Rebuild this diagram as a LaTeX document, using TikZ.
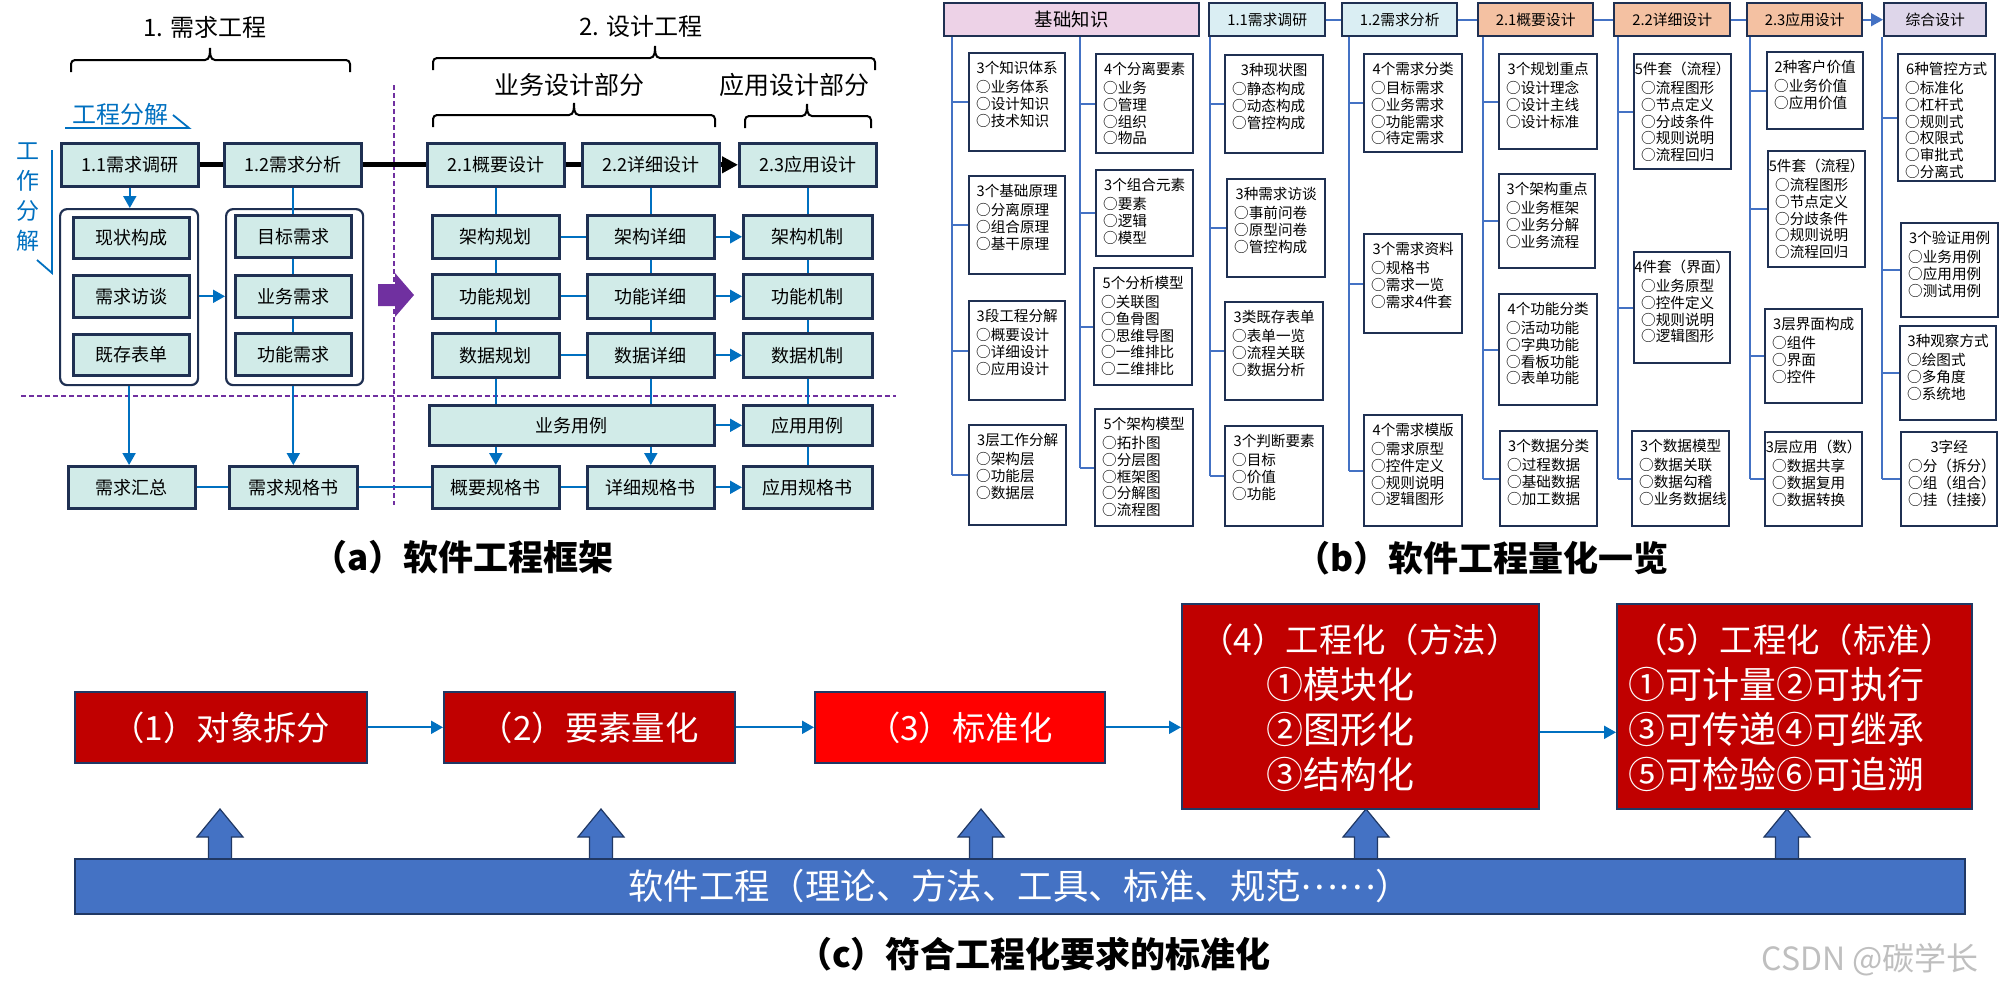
\documentclass[tikz,border=0pt]{standalone}
\usepackage{fontspec}
\setmainfont{Noto Sans CJK SC}
\usetikzlibrary{arrows.meta}

\definecolor{navy}{HTML}{1F3052}
\definecolor{tealbox}{HTML}{D1EBE8}
\definecolor{lineblue}{HTML}{0070C0}
\definecolor{linkblue}{HTML}{4472C4}
\definecolor{purp}{HTML}{7030A0}
\definecolor{hpink}{HTML}{EDD2E7}
\definecolor{hblue}{HTML}{DAEEF3}
\definecolor{hsalmon}{HTML}{F4C1A2}
\definecolor{hlav}{HTML}{DED6EA}
\definecolor{darkred}{HTML}{C00000}
\definecolor{brightred}{HTML}{FF0000}
\definecolor{barblue}{HTML}{4472C4}
\definecolor{barline}{HTML}{203864}

% rectangle node given by its corners (in px units)
\newcommand\rbox[7][]{\node[#1, anchor=north west, inner sep=0pt,
  minimum width={(#5-#3)/2}, minimum height={(#6-#4)/2}] (#2) at (#3,#4) {#7};}
% white list box with a centred title and left-aligned entries
\newcommand\itembox[6]{\node[ibx, anchor=north west] (#1) at (#2,#3)
  {\begin{minipage}[t][\dimexpr\numexpr#5-#3\relax pt/2-4pt\relax][t]{\dimexpr\numexpr#4-#2\relax pt/2-7pt\relax}#6\end{minipage}};}
\newcommand\ititle[1]{\makebox[\linewidth][c]{\rule{0pt}{8pt}#1}\\[1.2pt]}
% curly bracket: left x, right x, bar y, tip x
\newcommand\topbrace[4]{\draw[bracket] (#1,#3+12) -- (#1,#3+4) to[out=90,in=180] (#1+4,#3)
  -- (#4-5,#3) to[out=0,in=-90] (#4,#3-12) to[out=-90,in=180] (#4+5,#3)
  -- (#2-4,#3) to[out=0,in=90] (#2,#3+4) -- (#2,#3+12);}

\begin{document}
\begin{tikzpicture}[x=0.5pt,y=-0.5pt,
  abx/.style={draw=navy, line width=1.3pt, fill=tealbox, font=\fontsize{9}{10}\selectfont},
  grpbx/.style={draw=navy, line width=1.1pt, rounded corners=3.5pt},
  wire/.style={draw=lineblue, line width=1pt},
  wireto/.style={wire, -{Triangle[length=6pt,width=6.5pt]}},
  spine/.style={draw=black, line width=2.6pt},
  bracket/.style={draw=black, line width=1pt},
  pdash/.style={draw=purp, line width=0.6pt, dash pattern=on 2.5pt off 1.5pt},
  hdr/.style={draw=navy, line width=1.2pt, font=\fontsize{7.4}{8}\selectfont},
  ibx/.style={draw=navy, line width=1.2pt, fill=white, inner xsep=3.5pt, inner ysep=2pt,
    font=\fontsize{7.3}{8.4}\selectfont},
  treeline/.style={draw=linkblue, line width=1pt},
  hlink/.style={draw=linkblue, line width=0.8pt},
  cbx/.style={draw=barline, line width=0.8pt, text=white, font=\fontsize{16.7}{20}\selectfont},
  ctitle/.style={text=white, inner sep=0pt, font=\fontsize{16.7}{20}\selectfont},
  citem/.style={text=white, inner sep=0pt, font=\fontsize{18.5}{22}\selectfont},
  uparr/.style={fill=barblue, draw=barline, line width=0.6pt},
  captxt/.style={font=\fontsize{17.5}{20}\selectfont\bfseries},
  heading/.style={font=\fontsize{12}{14}\selectfont},
]
\useasboundingbox[fill=white] (0,0) rectangle (2006,1002);

%% ---------------- (a) framework ----------------
\node[heading] (t1) at (205,27) {1. 需求工程};
\node[heading] (t2) at (641,26) {2. 设计工程};
\node[heading, font=\fontsize{12.5}{14}\selectfont] (t3) at (569,85) {业务设计部分};
\node[heading, font=\fontsize{12.5}{14}\selectfont] (t4) at (794,85) {应用设计部分};
\topbrace{71}{350}{60}{210}
\topbrace{433}{875}{58}{655}
\topbrace{433}{715}{115}{574}
\topbrace{745}{871}{116}{807}

\node[heading, text=lineblue] (lab1) at (120,114) {工程分解};
\draw[lineblue, line width=0.9pt] (65,128) -- (189,128) -- (173,115);
\node[text=lineblue, align=center, font=\fontsize{11.5}{15}\selectfont] (lab2) at (28,197) {工\\作\\分\\解};
\draw[lineblue, line width=0.9pt] (52,150) -- (52,273) -- (37,260);

% stage separators
\coordinate (pv1) at (394,85);  \coordinate (pv2) at (394,505);
\coordinate (ph1) at (21,396);  \coordinate (ph2) at (896,396);
\draw[pdash] (pv1) -- (pv2);
\draw[pdash] (ph1) -- (ph2);
\fill[purp] (378,284) -- (395,284) -- (395,273) -- (414,295) -- (395,317) -- (395,306) -- (378,306) -- cycle;

\rbox[grpbx]{grpA}{59}{208}{197}{384}{}
\rbox[grpbx]{grpB}{225}{208}{362}{384}{}

\rbox[abx]{r11}{60}{142}{197}{185}{1.1需求调研}
\rbox[abx]{r12}{223}{142}{360}{185}{1.2需求分析}
\rbox[abx]{r21}{426}{142}{563}{185}{2.1概要设计}
\rbox[abx]{r22}{581}{142}{718}{185}{2.2详细设计}
\rbox[abx]{r23}{738}{142}{875}{185}{2.3应用设计}

\rbox[abx]{x1}{72}{216}{188}{257}{现状构成}
\rbox[abx]{x2}{72}{274}{188}{316}{需求访谈}
\rbox[abx]{x3}{72}{333}{188}{374}{既存表单}
\rbox[abx]{y1}{234}{214}{350}{256}{目标需求}
\rbox[abx]{y2}{234}{274}{350}{316}{业务需求}
\rbox[abx]{y3}{234}{332}{350}{374}{功能需求}
\rbox[abx]{hz}{67}{465}{194}{507}{需求汇总}
\rbox[abx]{hs}{228}{465}{356}{507}{需求规格书}

\rbox[abx]{jg1}{431}{214}{558}{257}{架构规划}
\rbox[abx]{jg2}{586}{214}{713}{257}{架构详细}
\rbox[abx]{jg3}{742}{214}{871}{257}{架构机制}
\rbox[abx]{gn1}{431}{273}{558}{317}{功能规划}
\rbox[abx]{gn2}{586}{273}{713}{317}{功能详细}
\rbox[abx]{gn3}{742}{273}{871}{317}{功能机制}
\rbox[abx]{sj1}{431}{332}{558}{376}{数据规划}
\rbox[abx]{sj2}{586}{332}{713}{376}{数据详细}
\rbox[abx]{sj3}{742}{332}{871}{376}{数据机制}
\rbox[abx]{yl1}{428}{404}{713}{444}{业务用例}
\rbox[abx]{yl2}{742}{404}{871}{444}{应用用例}
\rbox[abx]{gg1}{431}{465}{558}{507}{概要规格书}
\rbox[abx]{gg2}{586}{465}{713}{507}{详细规格书}
\rbox[abx]{gg3}{742}{465}{871}{507}{应用规格书}

% main stage line
\draw[spine] (r11.east) -- (r12.west);
\draw[spine] (r12.east) -- (r21.west);
\draw[spine] (r21.east) -- (r22.west);
\draw[spine, -{Triangle[length=8pt,width=8pt]}] (r22.east) -- (r23.west);

% requirement links
\draw[wireto] (r11.south) -- (r11.south |- grpA.north);
\draw[wire] (r12.south) -- (r12.south |- y1.north);
\draw[wire] (y1) -- (y2);
\draw[wire] (y2) -- (y3);
\draw[wireto] (grpA.east |- x2) -- (grpB.west |- x2);
\draw[wireto] (grpA.south) -- (grpA.south |- hz.north);
\draw[wireto] (hs.north |- grpB.south) -- (hs.north);
\draw[wire] (hz) -- (hs);
\draw[wire] (hs) -- (gg1);

% design links
\draw[wire] (r21) -- (jg1);  \draw[wire] (jg1) -- (gn1);  \draw[wire] (gn1) -- (sj1);
\draw[wire] (sj1.south) -- (sj1.south |- yl1.north);
\draw[wire] (r22) -- (jg2);  \draw[wire] (jg2) -- (gn2);  \draw[wire] (gn2) -- (sj2);
\draw[wire] (sj2.south) -- (sj2.south |- yl1.north);
\draw[wire] (r23) -- (jg3);  \draw[wire] (jg3) -- (gn3);  \draw[wire] (gn3) -- (sj3);
\draw[wire] (sj3) -- (yl2);  \draw[wire] (yl2) -- (gg3);
\draw[wire] (jg1) -- (jg2);  \draw[wireto] (jg2) -- (jg3);
\draw[wire] (gn1) -- (gn2);  \draw[wireto] (gn2) -- (gn3);
\draw[wire] (sj1) -- (sj2);  \draw[wireto] (sj2) -- (sj3);
\draw[wireto] (yl1) -- (yl2);
\draw[wireto] (yl1.south -| gg1.north) -- (gg1.north);
\draw[wireto] (yl1.south -| gg2.north) -- (gg2.north);
\draw[wire] (gg1) -- (gg2);  \draw[wireto] (gg2) -- (gg3);

\node[captxt] (capa) at (463,557) {（a）软件工程框架};

%% ---------------- (b) quantified overview ----------------
\rbox[hdr, fill=hpink, font=\fontsize{9.2}{10}\selectfont]{h0}{943}{2}{1198}{35}{基础知识}
\rbox[hdr, fill=hblue]{h1}{1208}{2}{1324}{35}{1.1需求调研}
\rbox[hdr, fill=hblue]{h2}{1341}{2}{1456}{35}{1.2需求分析}
\rbox[hdr, fill=hsalmon]{h3}{1477}{2}{1592}{35}{2.1概要设计}
\rbox[hdr, fill=hsalmon]{h4}{1613}{2}{1729}{35}{2.2详细设计}
\rbox[hdr, fill=hsalmon]{h5}{1746}{2}{1861}{35}{2.3应用设计}
\rbox[hdr, fill=hlav]{h6}{1883}{2}{1985}{35}{综合设计}
\draw[hlink] (h1) -- (h2);
\draw[hlink] (h2) -- (h3);
\draw[hlink] (h3) -- (h4);
\draw[hlink] (h4) -- (h5);
\draw[hlink, -{Triangle[length=6pt,width=6.5pt]}] (h5) -- (h6);

\itembox{bk1}{968}{52}{1064}{150}{\ititle{3个知识体系}○业务体系\\○设计知识\\○技术知识}
\itembox{bk2}{968}{175}{1064}{273}{\ititle{3个基础原理}○分离原理\\○组合原理\\○基干原理}
\itembox{bk3}{968}{300}{1064}{399}{\ititle{3段工程分解}○概要设计\\○详细设计\\○应用设计}
\itembox{bk4}{968}{424}{1065}{524}{\ititle{3层工作分解}○架构层\\○功能层\\○数据层}
\itembox{bk5}{1095}{53}{1192}{152}{\ititle{4个分离要素}○业务\\○管理\\○组织\\○物品}
\itembox{bk6}{1095}{169}{1192}{255}{\ititle{3个组合元素}○要素\\○逻辑\\○模型}
\itembox{bk7}{1093}{267}{1191}{384}{\ititle{5个分析模型}○关联图\\○鱼骨图\\○思维导图\\○一维排比\\○二维排比}
\itembox{bk8}{1094}{408}{1192}{525}{\ititle{5个架构模型}○拓扑图\\○分层图\\○框架图\\○分解图\\○流程图}

\itembox{bq1}{1224}{54}{1322}{152}{\ititle{3种现状图}○静态构成\\○动态构成\\○管控构成}
\itembox{bq2}{1226}{178}{1324}{276}{\ititle{3种需求访谈}○事前问卷\\○原型问卷\\○管控构成}
\itembox{bq3}{1224}{301}{1322}{399}{\ititle{3类既存表单}○表单一览\\○流程关联\\○数据分析}
\itembox{bq4}{1224}{425}{1322}{525}{\ititle{3个判断要素}○目标\\○价值\\○功能}

\itembox{ba1}{1363}{53}{1461}{151}{\ititle{4个需求分类}○目标需求\\○业务需求\\○功能需求\\○待定需求}
\itembox{ba2}{1363}{233}{1461}{332}{\ititle{3个需求资料}○规格书\\○需求一览\\○需求4件套}
\itembox{ba3}{1363}{414}{1461}{525}{\ititle{4个需求模版}○需求原型\\○控件定义\\○规则说明\\○逻辑图形}

\itembox{bg1}{1498}{53}{1596}{148}{\ititle{3个规划重点}○设计理念\\○设计主线\\○设计标准}
\itembox{bg2}{1498}{173}{1594}{267}{\ititle{3个架构重点}○业务框架\\○业务分解\\○业务流程}
\itembox{bg3}{1498}{293}{1596}{404}{\ititle{4个功能分类}○活动功能\\○字典功能\\○看板功能\\○表单功能}
\itembox{bg4}{1499}{430}{1596}{525}{\ititle{3个数据分类}○过程数据\\○基础数据\\○加工数据}

\itembox{bd1}{1633}{53}{1730}{168}{\ititle{5件套（流程）}○流程图形\\○节点定义\\○分歧条件\\○规则说明\\○流程回归}
\itembox{bd2}{1633}{251}{1729}{362}{\ititle{4件套（界面）}○业务原型\\○控件定义\\○规则说明\\○逻辑图形}
\itembox{bd3}{1631}{430}{1728}{525}{\ititle{3个数据模型}○数据关联\\○数据勾稽\\○业务数据线}

\itembox{bp1}{1766}{51}{1862}{128}{\ititle{2种客户价值}○业务价值\\○应用价值}
\itembox{bp2}{1767}{150}{1864}{266}{\ititle{5件套（流程）}○流程图形\\○节点定义\\○分歧条件\\○规则说明\\○流程回归}
\itembox{bp3}{1764}{308}{1861}{402}{\ititle{3层界面构成}○组件\\○界面\\○控件}
\itembox{bp4}{1764}{431}{1861}{525}{\ititle{3层应用（数）}○数据共享\\○数据复用\\○数据转换}

\itembox{bs1}{1897}{53}{1994}{180}{\ititle{6种管控方式}○标准化\\○杠杆式\\○规则式\\○权限式\\○审批式\\○分离式}
\itembox{bs2}{1900}{222}{1997}{316}{\ititle{3个验证用例}○业务用例\\○应用用例\\○测试用例}
\itembox{bs3}{1899}{325}{1995}{419}{\ititle{3种观察方式}○绘图式\\○多角度\\○系统地}
\itembox{bs4}{1900}{431}{1996}{525}{\ititle{3字经}○分（拆分）\\○组（组合）\\○挂（挂接）}

% column spines and branches
\coordinate (v0) at (952,0);  \coordinate (v1) at (1080,0);
\coordinate (v2) at (1210,0); \coordinate (v3) at (1349,0);
\coordinate (v4) at (1483,0); \coordinate (v5) at (1618,0);
\coordinate (v6) at (1750,0); \coordinate (v7) at (1882,0);
\draw[treeline] (h0.south -| v0) -- (bk4.west -| v0);
\draw[treeline] (h0.south -| v1) -- (bk8.west -| v1);
\draw[treeline] (h1.south -| v2) -- (bq4.west -| v2);
\draw[treeline] (h2.south -| v3) -- (ba3.west -| v3);
\draw[treeline] (h3.south -| v4) -- (bg4.west -| v4);
\draw[treeline] (h4.south -| v5) -- (bd3.west -| v5);
\draw[treeline] (h5.south -| v6) -- (bp4.west -| v6);
\draw[treeline] (h6.south -| v7) -- (bs4.west -| v7);
\foreach \b in {bk1,bk2,bk3,bk4} {\draw[treeline] (\b.west -| v0) -- (\b.west);}
\foreach \b in {bk5,bk6,bk7,bk8} {\draw[treeline] (\b.west -| v1) -- (\b.west);}
\foreach \b in {bq1,bq2,bq3,bq4} {\draw[treeline] (\b.west -| v2) -- (\b.west);}
\foreach \b in {ba1,ba2,ba3} {\draw[treeline] (\b.west -| v3) -- (\b.west);}
\foreach \b in {bg1,bg2,bg3,bg4} {\draw[treeline] (\b.west -| v4) -- (\b.west);}
\foreach \b in {bd1,bd2,bd3} {\draw[treeline] (\b.west -| v5) -- (\b.west);}
\foreach \b in {bp1,bp2,bp3,bp4} {\draw[treeline] (\b.west -| v6) -- (\b.west);}
\foreach \b in {bs1,bs2,bs3,bs4} {\draw[treeline] (\b.west -| v7) -- (\b.west);}

\node[captxt] (capb) at (1482,558) {（b）软件工程量化一览};

%% ---------------- (c) standardisation ----------------
\rbox[cbx, fill=darkred]{c1}{74}{691}{366}{762}{（1）对象拆分}
\rbox[cbx, fill=darkred]{c2}{443}{691}{734}{762}{（2）要素量化}
\rbox[cbx, fill=brightred]{c3}{814}{691}{1104}{762}{（3）标准化}
\rbox[cbx, fill=darkred]{c4}{1181}{603}{1538}{808}{}
\rbox[cbx, fill=darkred]{c5}{1616}{603}{1971}{808}{}
\node[ctitle] (c4t) at (1360,640) {（4）工程化（方法）};
\node[citem, anchor=west] (c4a) at (1266,684) {①模块化};
\node[citem, anchor=west] (c4b) at (1266,729) {②图形化};
\node[citem, anchor=west] (c4c) at (1266,774) {③结构化};
\node[ctitle] (c5t) at (1794,640) {（5）工程化（标准）};
\node[citem, anchor=west] (c5a) at (1628,684) {①可计量②可执行};
\node[citem, anchor=west] (c5b) at (1628,729) {③可传递④可继承};
\node[citem, anchor=west] (c5c) at (1628,774) {⑤可检验⑥可追溯};

\draw[wireto] (c1) -- (c2);
\draw[wireto] (c2) -- (c3);
\draw[wireto] (c3.east) -- (c3.east -| c4.west);
\draw[wireto] ([yshift=-13pt]c4.east) -- ([yshift=-13pt]c5.west);

\foreach \x in {220,601,981,1366,1787}{
  \filldraw[uparr] (\x-11.5,859) -- (\x-11.5,837) -- (\x-23,837) -- (\x,809)
    -- (\x+23,837) -- (\x+11.5,837) -- (\x+11.5,859) -- cycle;}
\rbox[cbx, fill=barblue, font=\fontsize{17.7}{20}\selectfont]{bar}{74}{858}{1964}{913}{软件工程（理论、方法、工具、标准、规范\raisebox{0.3em}{……}）}

\node[captxt] (capc) at (1034,954) {（c）符合工程化要求的标准化};
\node[text=black!25, font=\fontsize{16}{18}\selectfont] (wm) at (1870,960) {CSDN @碳学长};
\end{tikzpicture}
\end{document}
